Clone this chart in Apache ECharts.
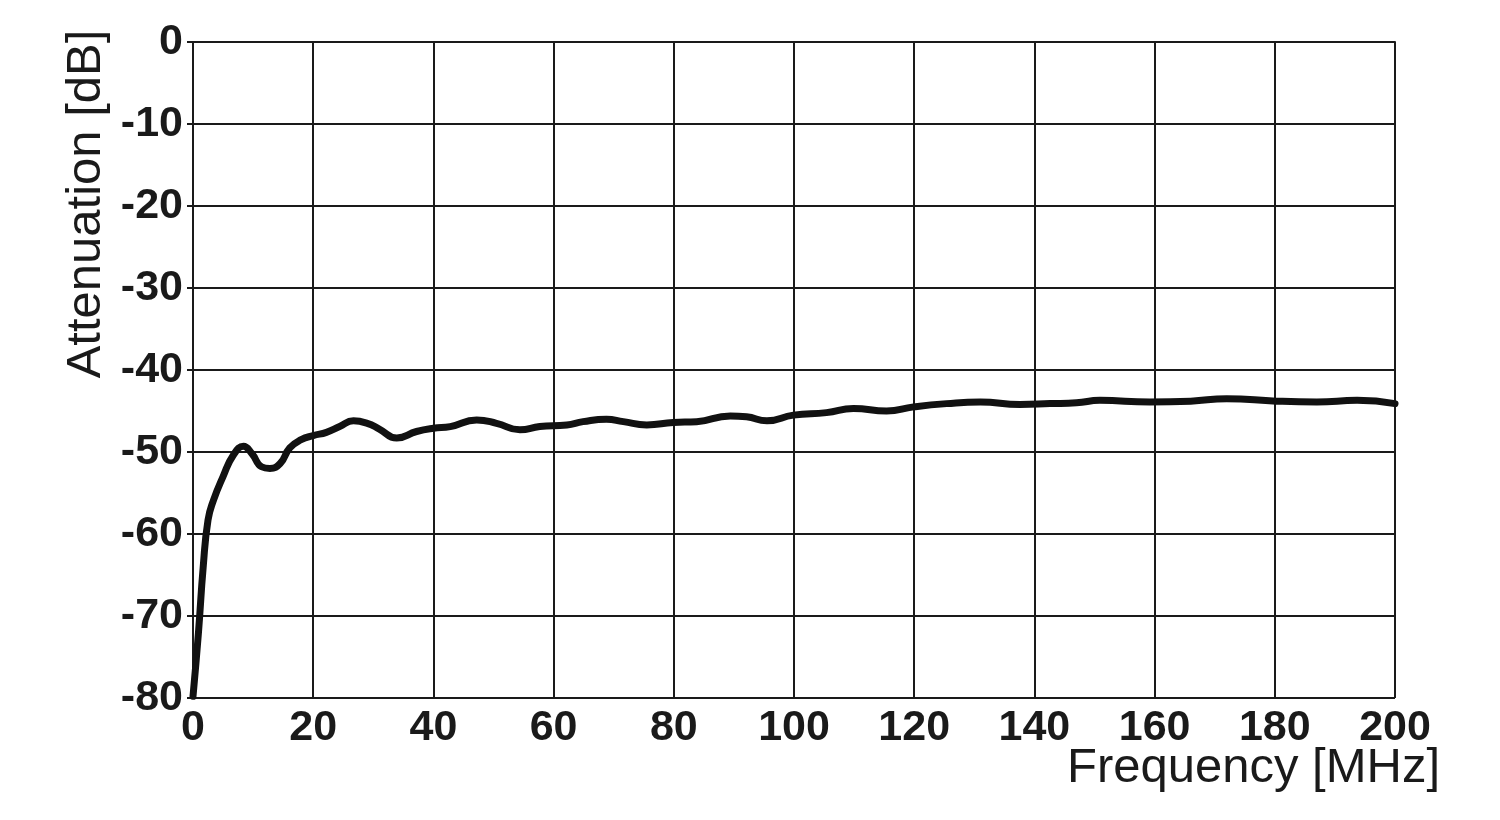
<!DOCTYPE html>
<html><head><meta charset="utf-8">
<script src="https://cdn.jsdelivr.net/npm/echarts@6/dist/echarts.min.js"></script>
<style>html,body{margin:0;padding:0;background:#fff}#c{width:1500px;height:820px}</style>
</head><body><div id="c"></div>
<script>
var freqMHz = [0, 0.9, 1.7, 2.5, 3.4, 5.0, 6.7, 8.4, 9.8, 11.4, 12.8, 14.5, 16.1, 18.0, 20.0, 22.2, 24.4, 26.7, 29.0, 31.0, 33.9, 37.2, 40.0, 42.8, 47.2, 50.5, 54.4, 57.7, 62.2, 64.9, 68.8, 71.6, 75.5, 79.9, 83.8, 89.4, 92.1, 95.5, 99.9, 105.4, 109.9, 115.4, 119.9, 125.4, 131.0, 137.6, 142.6, 147.0, 150.9, 159.2, 166.0, 172.0, 180.3, 187.0, 193.7, 200.0];
var attenuationDb = [-79.8, -72.1, -64.0, -58.3, -55.9, -53.0, -50.4, -49.3, -50.2, -51.8, -52.0, -51.4, -49.5, -48.5, -48.0, -47.6, -46.9, -46.2, -46.5, -47.2, -48.3, -47.5, -47.1, -46.9, -46.1, -46.5, -47.3, -46.9, -46.7, -46.3, -46.0, -46.3, -46.7, -46.4, -46.3, -45.6, -45.7, -46.2, -45.5, -45.2, -44.7, -45.0, -44.5, -44.1, -43.9, -44.2, -44.1, -44.0, -43.7, -43.9, -43.8, -43.5, -43.8, -43.9, -43.7, -44.1];
var xTicks = [0, 20, 40, 60, 80, 100, 120, 140, 160, 180, 200];
var yTicks = [0, -10, -20, -30, -40, -50, -60, -70, -80];
var yAxisTitle = 'Attenuation [dB]';
var xAxisTitle = 'Frequency [MHz]';

var chart = echarts.init(document.getElementById('c'), null, {renderer: 'canvas'});
var pts = freqMHz.map(function (f, i) { return [f, attenuationDb[i]]; });
var lineCol = '#1a1a1a';
var labelFont = {color: '#1a1a1a', fontFamily: 'Liberation Sans, Arial, sans-serif', fontWeight: 'bold', fontSize: 43};
chart.setOption({
  animation: false,
  backgroundColor: '#ffffff',
  grid: {left: 193, top: 42, right: 105, bottom: 122, containLabel: false},
  xAxis: {
    type: 'value', min: 0, max: 200, interval: 20,
    axisLine: {show: true, lineStyle: {color: lineCol, width: 2}},
    axisTick: {show: true, length: 6, lineStyle: {color: lineCol, width: 2}},
    splitLine: {show: true, lineStyle: {color: lineCol, width: 2}},
    axisLabel: Object.assign({margin: 9}, labelFont)
  },
  yAxis: {
    type: 'value', min: -80, max: 0, interval: 10,
    axisLine: {show: true, lineStyle: {color: lineCol, width: 2}},
    axisTick: {show: true, length: 6, lineStyle: {color: lineCol, width: 2}},
    splitLine: {show: true, lineStyle: {color: lineCol, width: 2}},
    axisLabel: Object.assign({margin: 10}, labelFont)
  },
  graphic: [
    {type: 'text', x: 86, y: 204, rotation: Math.PI / 2,
     style: {text: yAxisTitle, fill: '#1a1a1a', font: '49px "Liberation Sans", Arial, sans-serif', textAlign: 'center', textVerticalAlign: 'middle'}},
    {type: 'text', x: 1440, y: 768,
     style: {text: xAxisTitle, fill: '#1a1a1a', font: '49px "Liberation Sans", Arial, sans-serif', textAlign: 'right', textVerticalAlign: 'middle'}}
  ],
  series: [{
    type: 'line', data: pts, smooth: 0.5, showSymbol: false,
    lineStyle: {color: '#111', width: 7, cap: 'round', join: 'round'},
    z: 5
  }]
});
</script></body></html>
